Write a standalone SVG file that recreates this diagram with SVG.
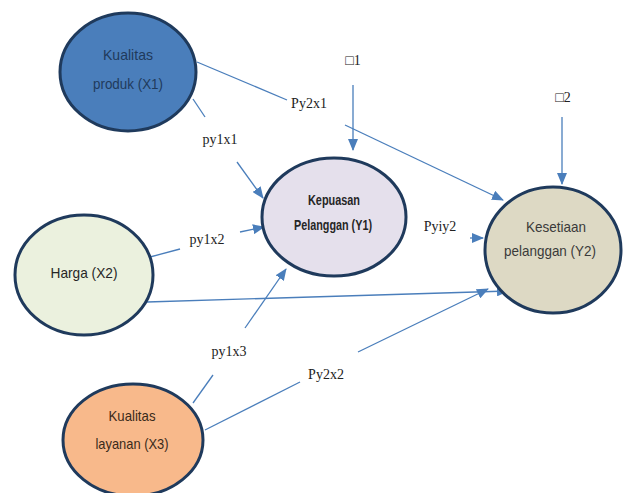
<svg xmlns="http://www.w3.org/2000/svg" width="625" height="493" viewBox="0 0 625 493">
<defs>
<marker id="ah" markerUnits="userSpaceOnUse" markerWidth="12" markerHeight="10" refX="11" refY="5" orient="auto">
<path d="M0,0 L12,5 L0,10 Z" fill="#4a7ebb"/>
</marker>
<style>
.node{stroke:#1f3a5c;stroke-width:3}
.nt{font-family:"Liberation Sans Narrow","Liberation Sans",Arial,sans-serif;font-size:15px;text-anchor:middle;fill:#262626}
.lb{font-family:"Liberation Serif","Times New Roman",serif;font-size:14px;text-anchor:middle;fill:#222}
.c{stroke:#4a7ebb;stroke-width:1.3;fill:none}
.ca{stroke:#4a7ebb;stroke-width:1.3;fill:none;marker-end:url(#ah)}
</style>
</defs>
<rect width="625" height="493" fill="#ffffff"/>
<g id="connectors">
<line class="c" x1="197" y1="62" x2="287" y2="100"/>
<line class="ca" x1="345" y1="125" x2="503" y2="200"/>
<line class="c" x1="193" y1="99" x2="205" y2="117"/>
<line class="ca" x1="237" y1="162" x2="263" y2="198"/>
<line class="ca" x1="353" y1="85" x2="353" y2="150"/>
<line class="ca" x1="562" y1="117" x2="562" y2="184"/>
<line class="c" x1="150" y1="257" x2="180" y2="249"/>
<line class="ca" x1="240" y1="232" x2="264" y2="227"/>
<line class="ca" x1="470" y1="238" x2="483" y2="238"/>
<line class="ca" x1="147" y1="302" x2="508" y2="291"/>
<line class="c" x1="205" y1="430" x2="300" y2="382"/>
<line class="ca" x1="358" y1="352" x2="488" y2="289"/>
<line class="c" x1="193" y1="403" x2="213" y2="375"/>
<line class="ca" x1="245" y1="328" x2="286" y2="269"/>
</g>
<g id="labels">
<text class="lb" x="309" y="108">Py2x1</text>
<text class="lb" x="220" y="144">py1x1</text>
<text class="lb" x="353" y="65">□1</text>
<text class="lb" x="563" y="102">□2</text>
<text class="lb" x="207" y="244">py1x2</text>
<text class="lb" x="440" y="231">Pyiy2</text>
<text class="lb" x="229" y="356">py1x3</text>
<text class="lb" x="326" y="379">Py2x2</text>
</g>
<g id="x1">
<ellipse class="node" cx="128" cy="72" rx="68" ry="59" fill="#4a7ebb"/>
<text class="nt" x="128" y="60" textLength="50" lengthAdjust="spacingAndGlyphs" style="fill:#1f3a5c">Kualitas</text>
<text class="nt" x="128" y="89" textLength="70" lengthAdjust="spacingAndGlyphs" style="fill:#1f3a5c">produk (X1)</text>
</g>
<g id="x2">
<ellipse class="node" cx="84" cy="275" rx="69" ry="60" fill="#ebf1de"/>
<text class="nt" x="84" y="278" textLength="67" lengthAdjust="spacingAndGlyphs">Harga (X2)</text>
</g>
<g id="y1">
<ellipse class="node" cx="334" cy="217" rx="72" ry="59" fill="#e5e0ec"/>
<text class="nt" x="334" y="205" textLength="52" lengthAdjust="spacingAndGlyphs" style="font-weight:bold">Kepuasan</text>
<text class="nt" x="333" y="230" textLength="78" lengthAdjust="spacingAndGlyphs" style="font-weight:bold">Pelanggan (Y1)</text>
</g>
<g id="y2">
<ellipse class="node" cx="553" cy="250" rx="68" ry="63" fill="#ddd9c4"/>
<text class="nt" x="556" y="232" textLength="60" lengthAdjust="spacingAndGlyphs" style="fill:#3a3a3a">Kesetiaan</text>
<text class="nt" x="550" y="256" textLength="92" lengthAdjust="spacingAndGlyphs" style="fill:#3a3a3a">pelanggan (Y2)</text>
</g>
<g id="x3">
<ellipse class="node" cx="133" cy="440" rx="70" ry="56" fill="#f8b98b"/>
<text class="nt" x="132" y="421" textLength="47" lengthAdjust="spacingAndGlyphs" style="fill:#3a2a1a">Kualitas</text>
<text class="nt" x="132" y="449" textLength="73" lengthAdjust="spacingAndGlyphs" style="fill:#3a2a1a">layanan (X3)</text>
</g>
</svg>
